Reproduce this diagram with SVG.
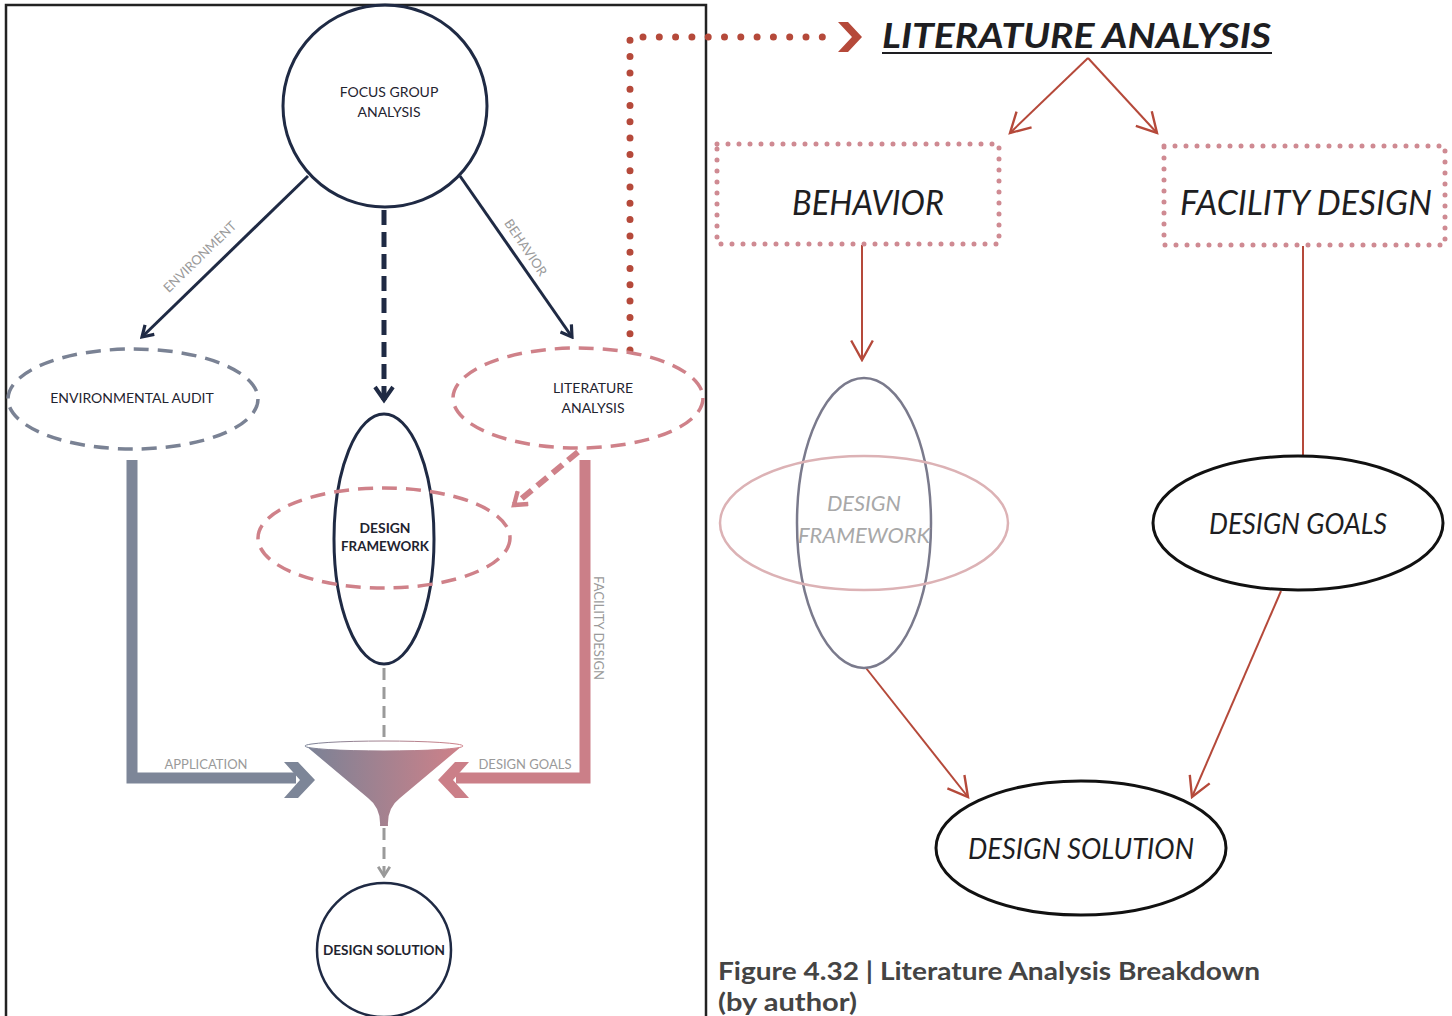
<svg xmlns="http://www.w3.org/2000/svg" width="1452" height="1016" viewBox="0 0 1452 1016">
  <style>
    .sans { font-family: "Lato", "Open Sans", "Liberation Sans", sans-serif; }
    .small { font-size: 14px; fill: #1f2430; }
    .tiny { font-size: 13px; fill: #9a9a9a; }
    .bold { font-weight: 700; }
    .big { font-size: 34px; font-style: italic; fill: #1e1e22; }
    .mid { font-size: 28px; font-style: italic; fill: #1e1e22; }
    .navy { stroke: #1f2a44; fill: none; }
    .red { stroke: #b5493a; stroke-width: 2; fill: none; }
    .dotbox { fill: none; stroke: #cf8a92; stroke-width: 5; stroke-linecap: round; stroke-dasharray: 0 11; }
  </style>
  <defs>
    <marker id="navyHead" viewBox="0 0 12 12" refX="10" refY="6" markerWidth="16" markerHeight="16" markerUnits="userSpaceOnUse" orient="auto">
      <path d="M2,1 L10,6 L2,11" fill="none" stroke="#1f2a44" stroke-width="2.4"/>
    </marker>
    <marker id="redHead" viewBox="0 0 12 12" refX="11" refY="6" markerWidth="26" markerHeight="26" markerUnits="userSpaceOnUse" orient="auto">
      <path d="M2,1 L11,6 L2,11" fill="none" stroke="#b5493a" stroke-width="1.1"/>
    </marker>
    <marker id="greyHead" viewBox="0 0 12 12" refX="10" refY="6" markerWidth="14" markerHeight="14" markerUnits="userSpaceOnUse" orient="auto">
      <path d="M2,1 L10,6 L2,11" fill="none" stroke="#999" stroke-width="2.4"/>
    </marker>
    <marker id="pinkHead" viewBox="0 0 12 12" refX="9" refY="6" markerWidth="20" markerHeight="20" markerUnits="userSpaceOnUse" orient="auto">
      <path d="M2,1 L9,6 L2,11" fill="none" stroke="#cf8189" stroke-width="2.6"/>
    </marker>
    <linearGradient id="funnelFill" x1="0" y1="0" x2="1" y2="0">
      <stop offset="0" stop-color="#7a8296"/>
      <stop offset="1" stop-color="#cf8189"/>
    </linearGradient>
  </defs>

  <rect width="1452" height="1016" fill="#ffffff"/>

  <!-- left panel frame -->
  <path d="M6,1016 L6,5 L706,5 L706,1016" fill="none" stroke="#222" stroke-width="2.5"/>

  <g id="connectors">
    <!-- focus group outputs -->
    <line x1="308" y1="176" x2="142" y2="337" class="navy" stroke-width="3" marker-end="url(#navyHead)"/>
    <line x1="460" y1="176" x2="572" y2="337" class="navy" stroke-width="3" marker-end="url(#navyHead)"/>
    <line x1="384" y1="210" x2="384" y2="400" class="navy" stroke-width="5" stroke-dasharray="15 7"/>
    <path d="M375,387 L384,400 L393,387" class="navy" stroke-width="4"/>
    <text class="sans tiny" transform="translate(203,260) rotate(-44)" text-anchor="middle">ENVIRONMENT</text>
    <text class="sans tiny" transform="translate(522,250) rotate(56)" text-anchor="middle">BEHAVIOR</text>

    <!-- literature analysis to design framework -->
    <line x1="578" y1="452" x2="514" y2="505" stroke="#cf8189" stroke-width="6" stroke-dasharray="13 7" marker-end="url(#pinkHead)"/>

    <!-- application feed -->
    <path d="M132,460 L132,778 L296,778" fill="none" stroke="#7d8698" stroke-width="11"/>
    <polygon points="284,762 298,762 315,780 298,798 284,798 300,780" fill="#7d8698"/>
    <text class="sans tiny" x="206" y="769" text-anchor="middle">APPLICATION</text>

    <!-- design goals feed -->
    <path d="M585,460 L585,778 L456,778" fill="none" stroke="#cb7f88" stroke-width="11"/>
    <polygon points="469,762 455,762 438,780 455,798 469,798 453,780" fill="#cb7f88"/>
    <text class="sans tiny" x="525" y="769" text-anchor="middle">DESIGN GOALS</text>
    <text class="sans tiny" transform="translate(594,628) rotate(90)" text-anchor="middle">FACILITY DESIGN</text>

    <!-- framework through funnel to solution -->
    <line x1="384" y1="668" x2="384" y2="742" stroke="#9a9a9a" stroke-width="3" stroke-dasharray="12 7"/>
    <line x1="384" y1="828" x2="384" y2="876" stroke="#9a9a9a" stroke-width="3" stroke-dasharray="12 7" marker-end="url(#greyHead)"/>

    <!-- dotted link to the breakdown -->
    <path d="M630,350 L630,37 L834,37" fill="none" stroke="#b5493a" stroke-width="7" stroke-linecap="round" stroke-dasharray="0 16.3"/>
    <polygon points="838,22 848,22 862,37 848,52 838,52 852,37" fill="#b5493a"/>

    <!-- breakdown connectors -->
    <line x1="1088" y1="58" x2="1010" y2="133" class="red" marker-end="url(#redHead)"/>
    <line x1="1088" y1="58" x2="1157" y2="133" class="red" marker-end="url(#redHead)"/>
    <line x1="862" y1="245" x2="862" y2="360" class="red" marker-end="url(#redHead)"/>
    <line x1="1303" y1="246" x2="1303" y2="456" class="red"/>
    <line x1="866" y1="668" x2="968" y2="797" class="red" marker-end="url(#redHead)"/>
    <line x1="1281" y1="591" x2="1192" y2="797" class="red" marker-end="url(#redHead)"/>
  </g>

  <g id="focus-group">
    <ellipse cx="385" cy="106" rx="102" ry="101" fill="#fff" class="navy" stroke-width="3"/>
    <text class="sans small" x="389" y="97" text-anchor="middle">FOCUS GROUP</text>
    <text class="sans small" x="389" y="117" text-anchor="middle">ANALYSIS</text>
  </g>

  <g id="environmental-audit">
    <ellipse cx="133" cy="399" rx="125" ry="50" fill="none" stroke="#7a8294" stroke-width="3.5" stroke-dasharray="15 9"/>
    <text class="sans small" x="132" y="403" text-anchor="middle">ENVIRONMENTAL AUDIT</text>
  </g>

  <g id="literature-analysis-left">
    <ellipse cx="578" cy="398" rx="125" ry="50" fill="none" stroke="#cf8189" stroke-width="3.5" stroke-dasharray="15 9"/>
    <text class="sans small" x="593" y="393" text-anchor="middle">LITERATURE</text>
    <text class="sans small" x="593" y="413" text-anchor="middle">ANALYSIS</text>
  </g>

  <g id="design-framework-left">
    <ellipse cx="384" cy="539" rx="50" ry="125" fill="none" class="navy" stroke-width="3"/>
    <ellipse cx="384" cy="538" rx="126" ry="50" fill="none" stroke="#cf8189" stroke-width="3.5" stroke-dasharray="15 9"/>
    <text class="sans small bold" x="385" y="533" text-anchor="middle" fill="#111" textLength="51" lengthAdjust="spacingAndGlyphs">DESIGN</text>
    <text class="sans small bold" x="385" y="551" text-anchor="middle" fill="#111" textLength="88" lengthAdjust="spacingAndGlyphs">FRAMEWORK</text>
  </g>

  <g id="funnel">
    <path d="M306,746 L462,746 L400,798 Q387,808 388,826 L380,826 Q381,808 368,798 Z" fill="url(#funnelFill)"/>
    <ellipse cx="384" cy="746" rx="79" ry="5" fill="#fff" stroke="url(#funnelFill)" stroke-width="1"/>
  </g>

  <g id="design-solution-left">
    <ellipse cx="384" cy="950" rx="67" ry="67" fill="#fff" class="navy" stroke-width="2.5"/>
    <text class="sans small bold" x="384" y="955" text-anchor="middle" fill="#111" textLength="122" lengthAdjust="spacingAndGlyphs">DESIGN SOLUTION</text>
  </g>

  <g id="literature-analysis-title">
    <text class="sans bold" x="882" y="48" font-size="35" font-style="italic" fill="#1e1e22" textLength="389" lengthAdjust="spacingAndGlyphs">LITERATURE ANALYSIS</text>
    <line x1="882" y1="53" x2="1272" y2="53" stroke="#1e1e22" stroke-width="2"/>
  </g>

  <g id="behavior">
    <rect x="717" y="144" width="282" height="100" class="dotbox"/>
    <text class="sans big" x="868" y="215" text-anchor="middle" textLength="152" lengthAdjust="spacingAndGlyphs">BEHAVIOR</text>
  </g>

  <g id="facility-design">
    <rect x="1164" y="146" width="281" height="99" class="dotbox"/>
    <text class="sans big" x="1306" y="215" text-anchor="middle" textLength="252" lengthAdjust="spacingAndGlyphs">FACILITY DESIGN</text>
  </g>

  <g id="design-framework-right">
    <ellipse cx="864" cy="523" rx="67" ry="145" fill="none" stroke="#7a7a8c" stroke-width="2.5"/>
    <ellipse cx="864" cy="523" rx="144" ry="67" fill="none" stroke="#dcb2b5" stroke-width="2.5"/>
    <text class="sans" x="864" y="511" text-anchor="middle" font-size="22" font-style="italic" fill="#a8a8a8" textLength="74" lengthAdjust="spacingAndGlyphs">DESIGN</text>
    <text class="sans" x="864" y="543" text-anchor="middle" font-size="22" font-style="italic" fill="#a8a8a8" textLength="132" lengthAdjust="spacingAndGlyphs">FRAMEWORK</text>
  </g>

  <g id="design-goals">
    <ellipse cx="1298" cy="523" rx="145" ry="67" fill="none" stroke="#111" stroke-width="3"/>
    <text class="sans mid" x="1298" y="534" text-anchor="middle" textLength="178" lengthAdjust="spacingAndGlyphs">DESIGN GOALS</text>
  </g>

  <g id="design-solution-right">
    <ellipse cx="1081" cy="848" rx="145" ry="67" fill="none" stroke="#111" stroke-width="3"/>
    <text class="sans mid" x="1081" y="859" text-anchor="middle" textLength="226" lengthAdjust="spacingAndGlyphs">DESIGN SOLUTION</text>
  </g>

  <g id="caption">
    <text class="sans bold" x="718" y="980" font-size="24" fill="#444" textLength="542" lengthAdjust="spacingAndGlyphs">Figure 4.32 | Literature Analysis Breakdown</text>
    <text class="sans bold" x="718" y="1011" font-size="24" fill="#444" textLength="139" lengthAdjust="spacingAndGlyphs">(by author)</text>
  </g>
</svg>
